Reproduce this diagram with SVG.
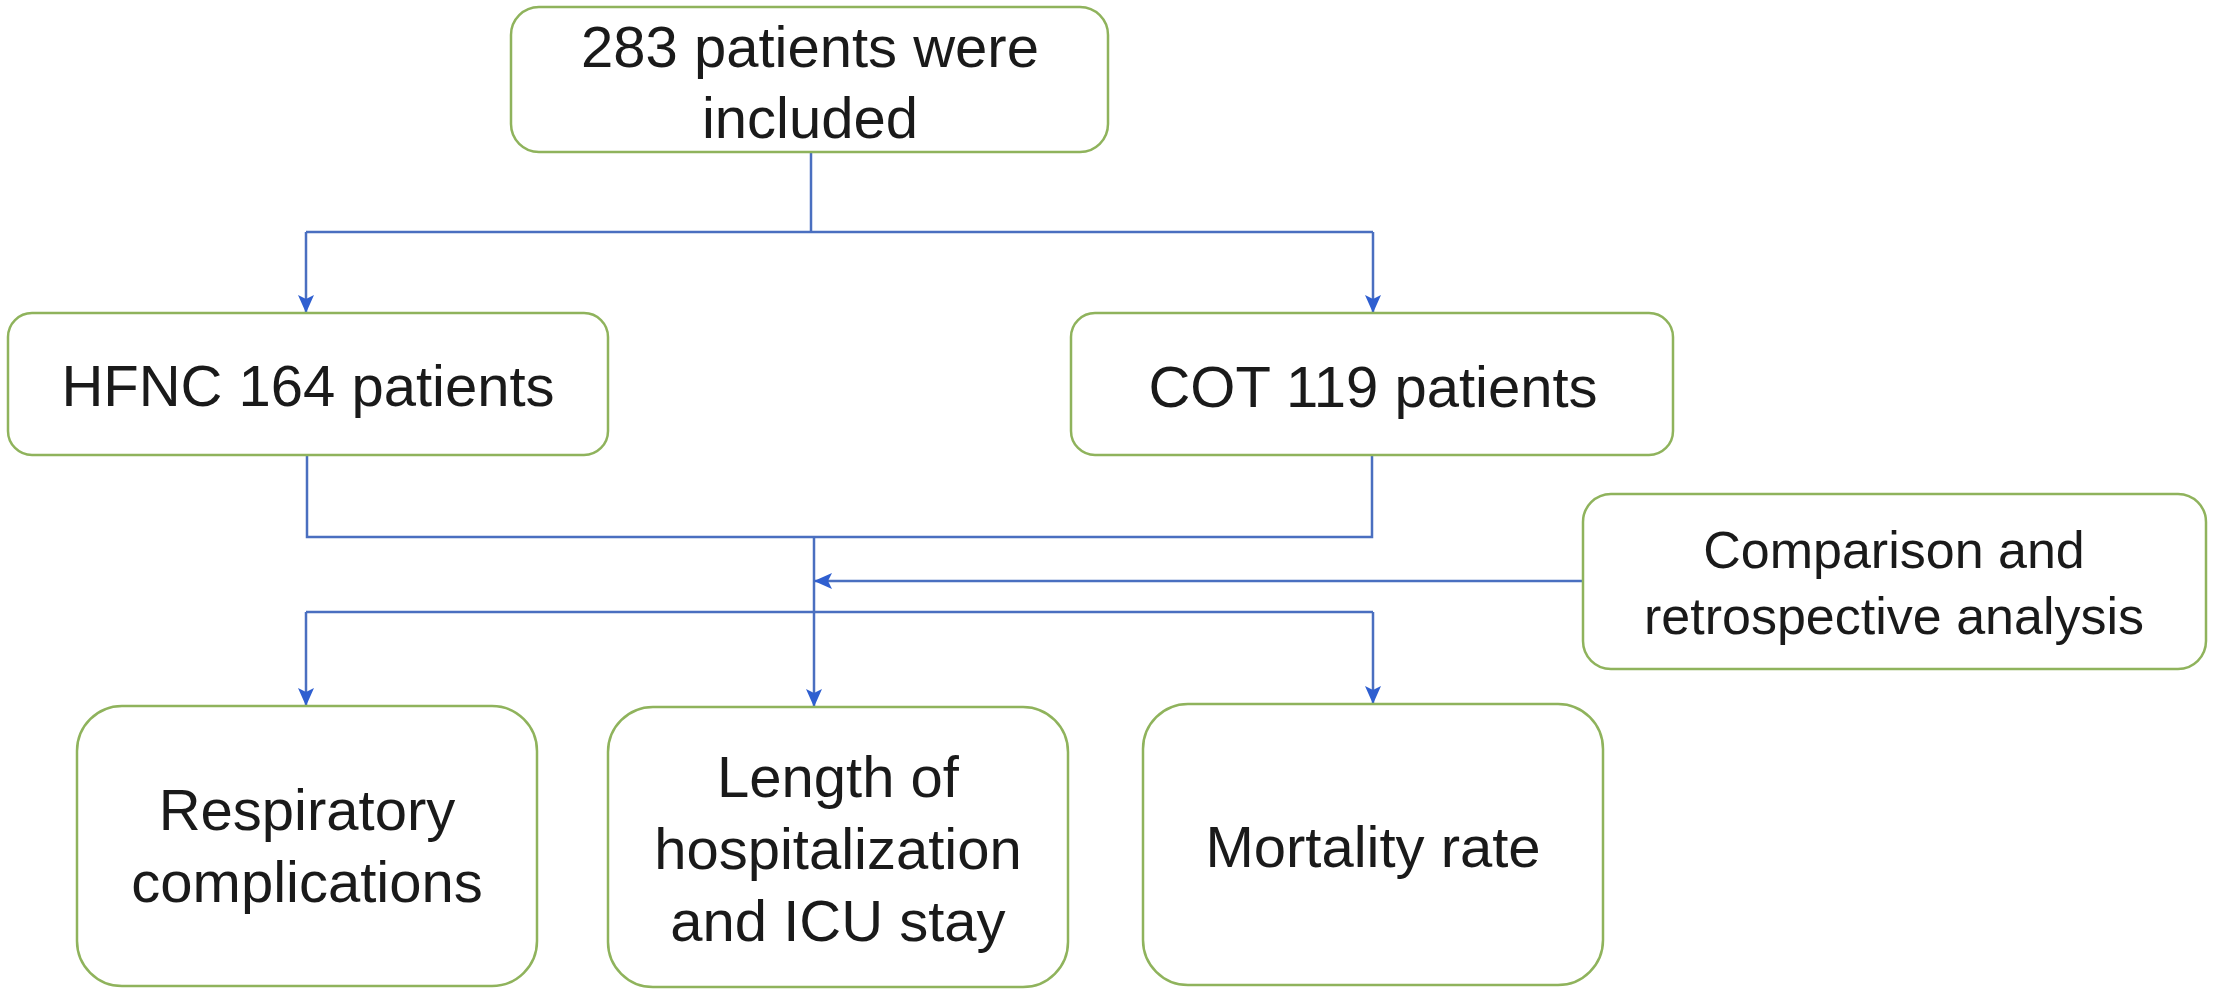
<svg xmlns="http://www.w3.org/2000/svg" width="2217" height="998" viewBox="0 0 2217 998">
  <style>
    .box { fill: #ffffff; stroke: #8fb35c; stroke-width: 2.5; }
    .t { font-family: "Liberation Sans", Arial, sans-serif; font-size: 58px; fill: #1a1a1a; text-anchor: middle; }
    .t2 { font-family: "Liberation Sans", Arial, sans-serif; font-size: 52px; fill: #1a1a1a; text-anchor: middle; }
    .ln { fill: none; stroke: #4a6fc0; stroke-width: 2.5; }
  </style>
  <defs>
    <marker id="arr" viewBox="0 0 18 16" refX="17" refY="8" markerWidth="18" markerHeight="16" markerUnits="userSpaceOnUse" orient="auto">
      <path d="M0,0 L18,8 L0,16 L4,8 Z" fill="#2f5fd0"/>
    </marker>
  </defs>
  <rect width="2217" height="998" fill="#ffffff"/>

  <g id="connectors">
    <path class="ln" d="M811,152 L811,232"/>
    <path class="ln" d="M306,232 L1373,232"/>
    <path class="ln" d="M306,232 L306,312" marker-end="url(#arr)"/>
    <path class="ln" d="M1373,232 L1373,312" marker-end="url(#arr)"/>
    <path class="ln" d="M307,455 L307,537 L1372,537 L1372,455"/>
    <path class="ln" d="M814,537 L814,706" marker-end="url(#arr)"/>
    <path class="ln" d="M1583,581 L815,581" marker-end="url(#arr)"/>
    <path class="ln" d="M306,612 L1373,612"/>
    <path class="ln" d="M306,612 L306,705" marker-end="url(#arr)"/>
    <path class="ln" d="M1373,612 L1373,703" marker-end="url(#arr)"/>
  </g>

  <g id="node-included">
    <rect class="box" x="511" y="7" width="597" height="145" rx="28" ry="28"/>
    <text class="t" x="810" y="67">283 patients were</text>
    <text class="t" x="810" y="138">included</text>
  </g>

  <g id="node-hfnc">
    <rect class="box" x="8" y="313" width="600" height="142" rx="24" ry="24"/>
    <text class="t" x="308" y="406">HFNC 164 patients</text>
  </g>

  <g id="node-cot">
    <rect class="box" x="1071" y="313" width="602" height="142" rx="24" ry="24"/>
    <text class="t" x="1373" y="407">COT 119 patients</text>
  </g>

  <g id="node-comparison">
    <rect class="box" x="1583" y="494" width="623" height="175" rx="28" ry="28"/>
    <text class="t2" x="1894" y="568">Comparison and</text>
    <text class="t2" x="1894" y="634">retrospective analysis</text>
  </g>

  <g id="node-respiratory">
    <rect class="box" x="77" y="706" width="460" height="280" rx="45" ry="45"/>
    <text class="t" x="307" y="830">Respiratory</text>
    <text class="t" x="307" y="902">complications</text>
  </g>

  <g id="node-length">
    <rect class="box" x="608" y="707" width="460" height="280" rx="45" ry="45"/>
    <text class="t" x="838" y="797">Length of</text>
    <text class="t" x="838" y="869">hospitalization</text>
    <text class="t" x="838" y="941">and ICU stay</text>
  </g>

  <g id="node-mortality">
    <rect class="box" x="1143" y="704" width="460" height="281" rx="45" ry="45"/>
    <text class="t" x="1373" y="867">Mortality rate</text>
  </g>
</svg>
